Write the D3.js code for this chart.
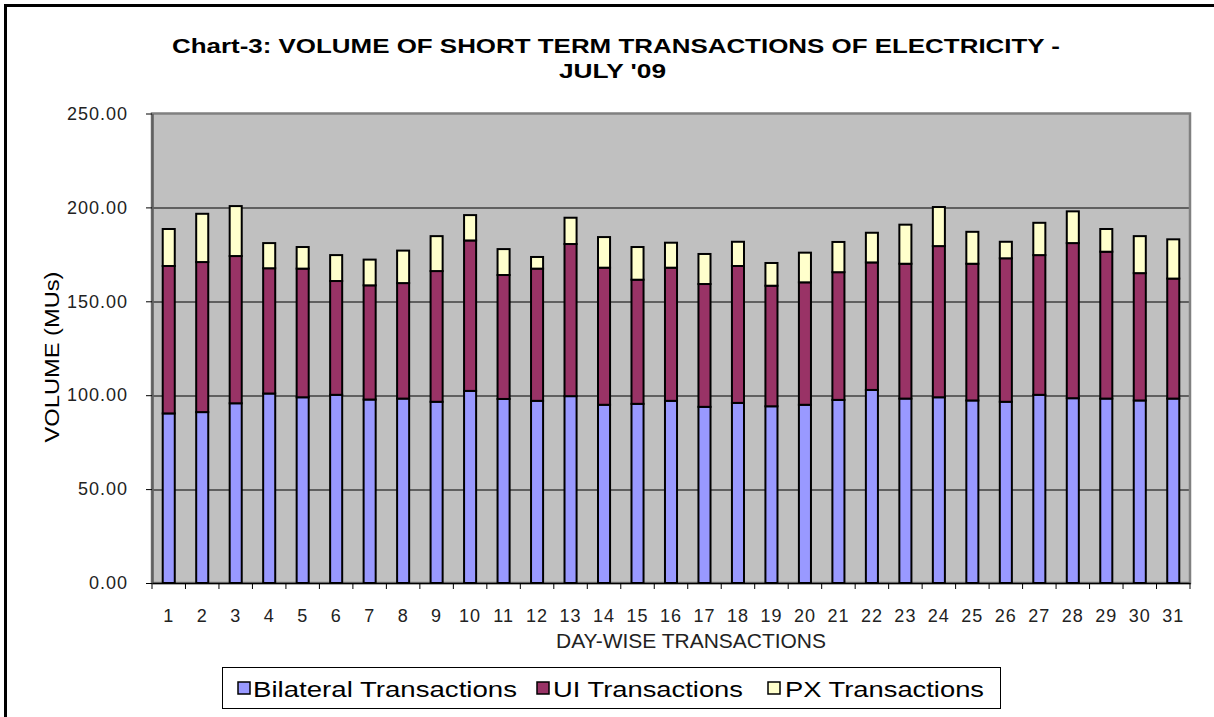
<!DOCTYPE html>
<html>
<head>
<meta charset="utf-8">
<script src="https://cdn.jsdelivr.net/npm/d3@7"></script>
<style>
  body { margin: 0; background: #fff; }
  svg { display: block; font-family: Arial, "Liberation Sans", sans-serif; }
</style>
</head>
<body>
<svg id="chart"></svg>
<script>
// chart values
const days = ["1","2","3","4","5","6","7","8","9","10","11","12","13","14","15","16",
  "17","18","19","20","21","22","23","24","25","26","27","28","29","30","31"];
const bilateral = [90.3, 91.0, 95.7, 100.9, 98.9, 100.2, 97.7, 98.2, 96.5, 102.3, 98.0,
  97.0, 99.5, 94.9, 95.4, 97.0, 93.8, 95.9, 94.1, 94.9, 97.5, 102.8, 98.2, 98.9, 97.2,
  96.5, 100.2, 98.4, 98.2, 97.2, 98.2];
const uiTx = [78.5, 79.9, 78.4, 66.7, 68.5, 60.6, 60.8, 61.5, 69.6, 80.1, 66.0,
  70.4, 81.0, 73.0, 66.1, 70.9, 65.4, 72.9, 64.2, 65.2, 68.0, 67.9, 71.8, 80.5, 72.8,
  76.4, 74.4, 82.6, 78.2, 67.8, 63.9];
const pxTx = [19.7, 25.7, 26.6, 13.4, 11.5, 13.8, 13.7, 17.3, 18.6, 13.5, 13.8,
  6.2, 14.0, 16.3, 17.4, 13.3, 16.0, 12.9, 12.1, 15.8, 16.1, 15.8, 20.8, 20.8, 17.0,
  8.8, 17.2, 16.9, 12.1, 19.7, 20.9];
const seriesKeys = ["bilateral", "ui", "px"];
const seriesNames = ["Bilateral Transactions", "UI Transactions", "PX Transactions"];
const seriesColors = ["#9999ff", "#993366", "#ffffcc"];
const yTicks = [0, 50, 100, 150, 200, 250];

// sizes
const W = 1214, H = 717;
const margin = { top: 113.5, left: 152 };
const width = 1190 - 152,
  height = 583 - 113.5;

const root = d3.select("#chart").attr("width", W).attr("height", H);

// outer chart border (top and left visible)
root.append("rect")
  .attr("x", 5.5).attr("y", 5.5)
  .attr("width", W + 20).attr("height", H + 20)
  .attr("fill", "#fff")
  .attr("stroke", "#000")
  .attr("stroke-width", 3);

const svg = root.append("g")
  .attr("transform", "translate(" + margin.left + "," + margin.top + ")");

// build table for stacking
const table = days.map((d, i) => ({
  day: d, bilateral: bilateral[i], ui: uiTx[i], px: pxTx[i]
}));
const stacked = d3.stack().keys(seriesKeys)(table);

// scales
const pad = 0.64;
const x = d3.scaleBand()
  .domain(days)
  .range([0, width])
  .paddingInner(pad)
  .paddingOuter(pad / 2);

const y = d3.scaleLinear()
  .domain([0, 250])
  .range([height, 0]);

// plot background
svg.append("rect")
  .attr("width", width).attr("height", height)
  .attr("fill", "#c0c0c0");

// gridlines
svg.append("g")
  .selectAll("line")
  .data(yTicks.filter(t => t > 0 && t < 250))
  .join("line")
    .attr("x1", 0).attr("x2", width)
    .attr("y1", d => Math.round(y(d)) + 0.5)
    .attr("y2", d => Math.round(y(d)) + 0.5)
    .attr("stroke", "#000")
    .attr("stroke-width", 1);

// plot border
svg.append("rect")
  .attr("width", width).attr("height", height)
  .attr("fill", "none")
  .attr("stroke", "#808080")
  .attr("stroke-width", 2.5);

// stacked bars
svg.append("g")
  .selectAll("g")
  .data(stacked)
  .join("g")
    .attr("fill", (d, i) => seriesColors[i])
  .selectAll("rect")
  .data(d => d)
  .join("rect")
    .attr("x", d => x(d.data.day))
    .attr("y", d => y(d[1]))
    .attr("width", x.bandwidth())
    .attr("height", d => y(d[0]) - y(d[1]))
    .attr("stroke", "#000")
    .attr("stroke-width", 2);

// y axis
const yAxis = svg.append("g")
  .call(d3.axisLeft(y)
    .tickValues(yTicks)
    .tickFormat(d3.format(".2f"))
    .tickSize(6)
    .tickSizeOuter(0)
    .tickPadding(18));
yAxis.select(".domain").attr("stroke", "#606060").attr("stroke-width", 2.5);
yAxis.selectAll(".tick line").attr("stroke", "#000");
yAxis.selectAll("text")
  .attr("font-size", 18)
  .attr("letter-spacing", 1)
  .attr("fill", "#222");

// x axis (labels centred, ticks at category boundaries)
const xAxis = svg.append("g")
  .attr("transform", "translate(0," + height + ")")
  .call(d3.axisBottom(x).tickSize(0).tickPadding(26));
xAxis.select(".domain").attr("stroke", "#000").attr("stroke-width", 1.5);
xAxis.selectAll("text")
  .attr("font-size", 18)
  .attr("letter-spacing", 1)
  .attr("fill", "#222");

const step = x.step();
svg.append("g")
  .attr("transform", "translate(0," + height + ")")
  .selectAll("line")
  .data(d3.range(days.length + 1))
  .join("line")
    .attr("x1", i => i * step).attr("x2", i => i * step)
    .attr("y1", 0).attr("y2", 6)
    .attr("stroke", "#000");

// title
root.append("text")
  .attr("x", 172).attr("y", 53)
  .attr("font-size", 20).attr("font-weight", "bold")
  .attr("textLength", 888).attr("lengthAdjust", "spacingAndGlyphs")
  .text("Chart-3: VOLUME OF SHORT TERM TRANSACTIONS OF ELECTRICITY -");
root.append("text")
  .attr("x", 559).attr("y", 78)
  .attr("font-size", 20).attr("font-weight", "bold")
  .attr("textLength", 107).attr("lengthAdjust", "spacingAndGlyphs")
  .text("JULY '09");

// axis titles
root.append("text")
  .attr("transform", "translate(59,357) rotate(-90)")
  .attr("text-anchor", "middle")
  .attr("font-size", 21)
  .attr("textLength", 171).attr("lengthAdjust", "spacingAndGlyphs")
  .text("VOLUME (MUs)");
root.append("text")
  .attr("x", 556).attr("y", 648)
  .attr("font-size", 20)
  .attr("fill", "#222")
  .attr("textLength", 270).attr("lengthAdjust", "spacingAndGlyphs")
  .text("DAY-WISE TRANSACTIONS");

// legend
const legend = root.append("g");
legend.append("rect")
  .attr("x", 222.5).attr("y", 667.5)
  .attr("width", 778).attr("height", 41)
  .attr("fill", "#fff")
  .attr("stroke", "#000");

const legendPos = [
  { sx: 238, tx: 253, len: 264 },
  { sx: 537, tx: 553, len: 190 },
  { sx: 768, tx: 785, len: 199 }
];
const items = legend.selectAll("g.item")
  .data(seriesNames)
  .join("g")
    .attr("class", "item");
items.append("rect")
  .attr("x", (d, i) => legendPos[i].sx)
  .attr("y", 682)
  .attr("width", 12).attr("height", 12)
  .attr("fill", (d, i) => seriesColors[i])
  .attr("stroke", "#000")
  .attr("stroke-width", 1.5);
items.append("text")
  .attr("x", (d, i) => legendPos[i].tx)
  .attr("y", 697)
  .attr("font-size", 22)
  .attr("textLength", (d, i) => legendPos[i].len)
  .attr("lengthAdjust", "spacingAndGlyphs")
  .text(d => d);
</script>
</body>
</html>
